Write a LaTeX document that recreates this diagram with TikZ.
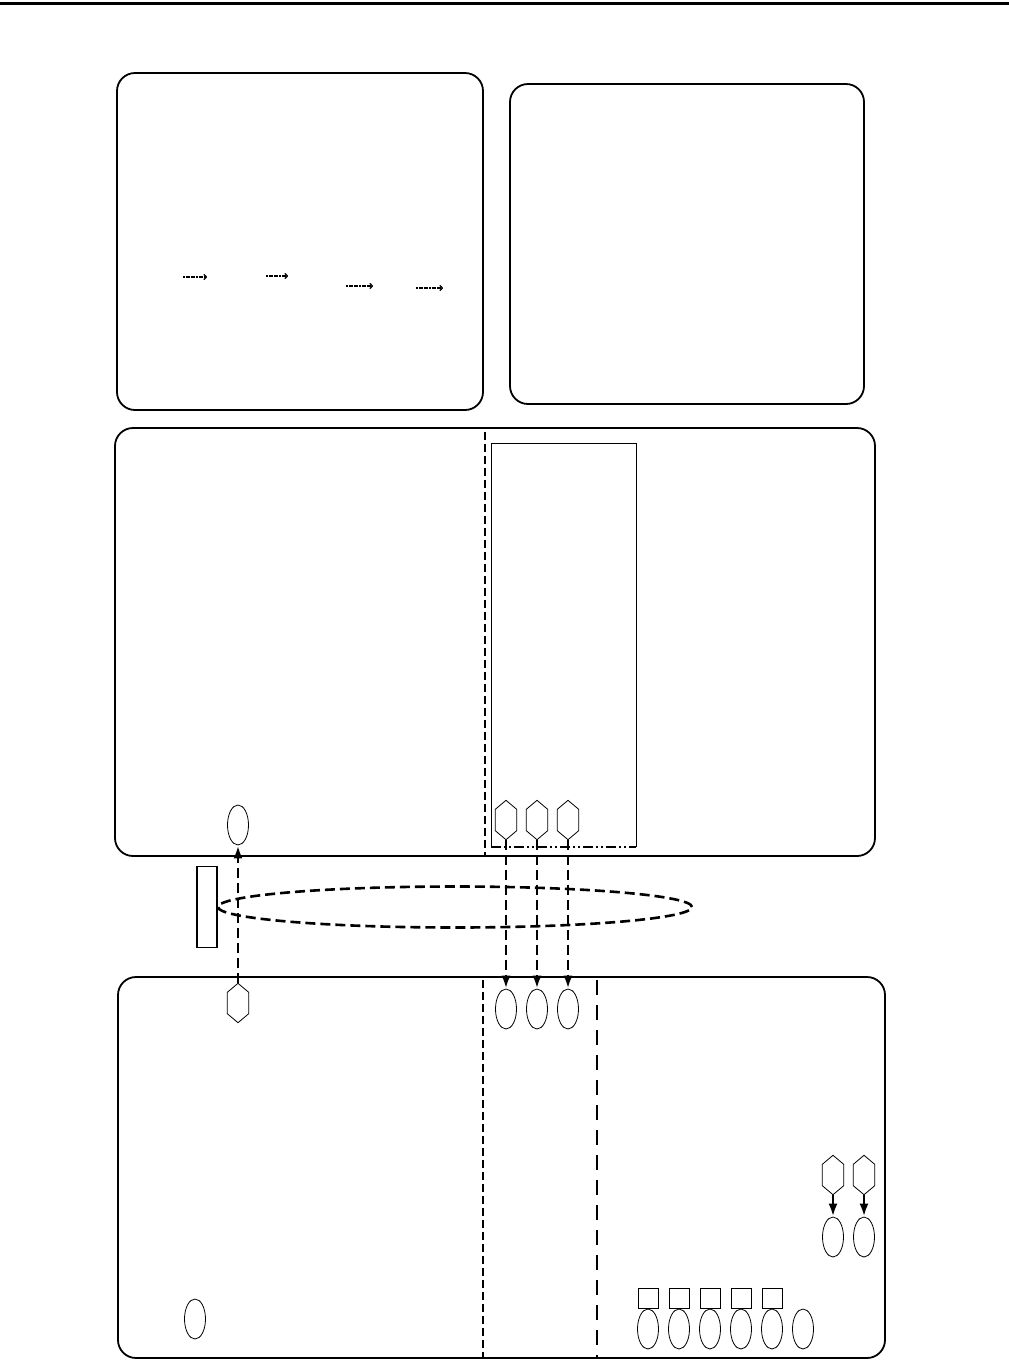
\documentclass[tikz,border=0pt]{standalone}
\usetikzlibrary{shapes.geometric,arrows.meta,calc}
\begin{document}
\begin{tikzpicture}[x=1pt,y=-1pt,
  panel/.style={draw,line width=1.8pt,rounded corners=18pt},
  oval/.style={draw,ellipse,line width=0.8pt,minimum width=21pt,minimum height=40pt,inner sep=0pt},
  hexa/.style={rectangle,draw=none,minimum width=21pt,minimum height=39pt,inner sep=0pt},
  hexline/.style={line width=0.8pt,line join=miter},
  sq/.style={draw,rectangle,line width=1pt,minimum width=20pt,minimum height=20pt,inner sep=0pt},
  dline/.style={line width=2.6pt,dash pattern=on 10pt off 5pt},
  darrow/.style={dline,-{Latex[length=13pt,width=9pt]}},
  sarrow/.style={line width=2.6pt,-{Latex[length=13pt,width=9pt]}},
  tinyarrow/.style={line width=1.2pt,dash pattern=on 2pt off 0.6pt,-{To[length=3.5pt,width=6pt]}}
]
\useasboundingbox (0,0) rectangle (1009,1361);
% top rule
\draw[line width=3pt] (0,3) -- (1009,3);
% panels
\draw[panel] (117,73) rectangle (483,410);
\draw[panel] (510,84) rectangle (864,404);
\draw[panel] (115,428) rectangle (875,856);
\draw[panel] (118,977) rectangle (885,1358);
% small arrows in panel 1
\coordinate (a1s) at (183,277); \coordinate (a1e) at (207,277);
\coordinate (a2s) at (266,276); \coordinate (a2e) at (288,276);
\coordinate (a3s) at (346,286); \coordinate (a3e) at (373,286);
\coordinate (a4s) at (416,288); \coordinate (a4e) at (443,288);
\draw[tinyarrow] (a1s) -- (a1e);
\draw[tinyarrow] (a2s) -- (a2e);
\draw[tinyarrow] (a3s) -- (a3e);
\draw[tinyarrow] (a4s) -- (a4e);
% panel 3 divider and inner box
\draw[line width=2pt,dash pattern=on 8pt off 4pt] (485,432) -- (485,856);
\draw[line width=1pt] (491,847) -- (491,443) -- (636,443) -- (636,847);
\draw[line width=2pt,dash pattern=on 10pt off 3pt on 2pt off 3pt on 2pt off 3pt] (491,847) -- (636,847);
% nodes in panel 3
\node[oval] (e0) at (238,825) {};
\node[hexa] (h1) at (506,820) {};
\node[hexa] (h2) at (537,820) {};
\node[hexa] (h3) at (568,820) {};
% middle
\node[draw,rectangle,line width=1.2pt,minimum width=20pt,minimum height=81pt,inner sep=0pt] (bar) at (207,907) {};
\node[draw,ellipse,dline,minimum width=474pt,minimum height=41pt,inner sep=0pt] (grp) at (455,907) {};
% panel 4
\draw[line width=2pt,dash pattern=on 8pt off 4pt] (483,980) -- (483,1358);
\draw[line width=2pt,dash pattern=on 15pt off 10pt] (597,980) -- (597,1358);
\node[hexa] (h0) at (238,1003) {};
\node[oval] (f1) at (506,1009) {};
\node[oval] (f2) at (537,1009) {};
\node[oval] (f3) at (568,1009) {};
\node[hexa] (h4) at (833,1175) {};
\node[hexa] (h5) at (864,1175) {};
\node[oval] (g4) at (833,1237) {};
\node[oval] (g5) at (864,1237) {};
\node[oval] (k0) at (195,1319) {};
\foreach \i/\x in {1/648,2/679,3/710,4/741,5/772}{
  \node[sq] (s\i) at (\x,1298) {};
}
\foreach \i/\x in {1/648,2/679,3/710,4/741,5/772,6/803}{
  \node[oval] (b\i) at (\x,1329) {};
}
% hexagon outlines
\foreach \h in {h0,h1,h2,h3,h4,h5}{
  \draw[hexline] (\h.north) -- ($(\h.north east)+(0,9)$) -- ($(\h.south east)+(0,-9)$)
    -- (\h.south) -- ($(\h.south west)+(0,-9)$) -- ($(\h.north west)+(0,9)$) -- cycle;
}
% connectors
\draw[darrow] (h0.north) -- (e0.south);
\draw[darrow] (h1.south) -- (f1.north);
\draw[darrow] (h2.south) -- (f2.north);
\draw[darrow] (h3.south) -- (f3.north);
\draw[sarrow] (h4.south) -- (g4.north);
\draw[sarrow] (h5.south) -- (g5.north);
\end{tikzpicture}
\end{document}
